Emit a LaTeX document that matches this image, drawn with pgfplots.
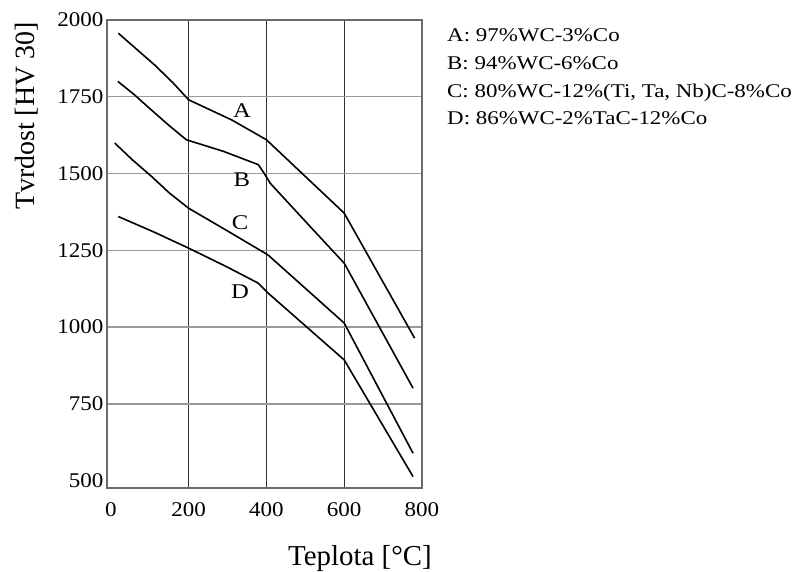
\documentclass[border=0pt]{standalone}
\usepackage{fontspec}
\setmainfont{Liberation Serif}
\newfontfamily\tickfont[FakeStretch=1.1]{Liberation Serif}
\newfontfamily\legfont[FakeStretch=1.18]{Liberation Serif}
\usepackage{pgfplots}
\pgfplotsset{compat=1.18}
\definecolor{vgrid}{HTML}{303030}
\definecolor{hgrid}{HTML}{9A9A9A}
\definecolor{frame}{HTML}{6A6A6A}
\begin{document}
\begin{tikzpicture}
\useasboundingbox (-107bp,-84bp) rectangle (688bp,488bp);
\begin{axis}[
  at={(0,0)}, anchor=south west,
  scale only axis,
  width=315bp, height=468bp,
  xmin=-10, xmax=800, ymin=476, ymax=2000,
  xtick={200,400,600}, ytick={750,1000,1250,1500,1750},
  extra x ticks={0,800}, extra y ticks={500,2000},
  extra x tick style={grid=none}, extra y tick style={grid=none},
  xmajorgrids, ymajorgrids,
  x grid style={vgrid, line width=1.4bp},
  y grid style={hgrid, line width=1.4bp},
  axis line style={frame, line width=1.8bp},
  major tick length=0pt,
  tick style={draw=none},
  /pgf/number format/1000 sep={},
  /pgf/number format/assume math mode=true,
  tick label style={font=\tickfont\fontsize{21}{25}\selectfont, black},
  xticklabel style={yshift=-11bp},
  yticklabel style={xshift=0bp},
  clip=false,
]
\addplot[black, line width=1.6bp] coordinates {(19,1957) (65,1906) (113,1853) (160,1795) (200,1740) (310,1675) (400,1610) (600,1371) (781,964)};
\addplot[black, line width=1.6bp] coordinates {(18,1800) (60,1757) (105,1706) (150,1656) (194,1610) (290,1572) (379,1529) (392,1505) (410,1468) (520,1317) (600,1208) (777,801)};
\addplot[black, line width=1.6bp] coordinates {(10,1599) (55,1545) (105,1490) (150,1437) (200,1387) (300,1313) (404,1235) (600,1013) (777,589)};
\addplot[black, line width=1.6bp] coordinates {(19,1360) (110,1310) (200,1257) (300,1195) (379,1143) (404,1111) (600,893) (777,513)};
\node[font=\legfont\fontsize{21}{25}\selectfont] at (axis cs:337,1704) {A};
\node[font=\legfont\fontsize{21}{25}\selectfont] at (axis cs:337,1480) {B};
\node[font=\legfont\fontsize{21}{25}\selectfont] at (axis cs:332,1339) {C};
\node[font=\legfont\fontsize{21}{25}\selectfont] at (axis cs:332,1115) {D};
\end{axis}
\node[rotate=90, font=\fontsize{28}{32}\selectfont] at (-80bp,372bp) {Tvrdost [HV 30]};
\node[anchor=base, font=\fontsize{29}{34}\selectfont] at (253bp,-77bp) {Teplota [°C]};
\begin{scope}[every node/.style={anchor=base west, inner sep=0pt, font=\legfont\fontsize{19.5}{23}\selectfont}]
\node at (340bp,446bp) {A: 97\%WC-3\%Co};
\node at (340bp,418bp) {B: 94\%WC-6\%Co};
\node at (340bp,390bp) {C: 80\%WC-12\%(Ti, Ta, Nb)C-8\%Co};
\node at (340bp,363bp) {D: 86\%WC-2\%TaC-12\%Co};
\end{scope}
\end{tikzpicture}
\end{document}
